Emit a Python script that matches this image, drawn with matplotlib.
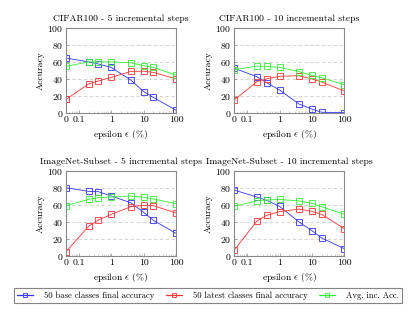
import matplotlib
matplotlib.use("Agg")
import matplotlib.pyplot as plt
import numpy as np
from matplotlib.ticker import FixedLocator, FixedFormatter, LogLocator, NullFormatter

plt.rcParams['font.family'] = ['cmr10', 'DejaVu Serif']
plt.rcParams['mathtext.fontset'] = 'cm'
plt.rcParams['axes.formatter.use_mathtext'] = True

# epsilon values (%); the "0" point is drawn at the left edge of the log axis
eps_labels = ["0", "0.2", "0.4", "1", "4", "10", "20", "100"]
eps_zero_pos = 0.04
eps = [eps_zero_pos, 0.2, 0.4, 1, 4, 10, 20, 100]

titles = ["CIFAR100 - 5 incremental steps", "CIFAR100 - 10 incremental steps",
          "ImageNet-Subset - 5 incremental steps", "ImageNet-Subset - 10 incremental steps"]

base_acc = [
    [64.5, 60, 57.5, 53.5, 38.6, 25, 18, 3],
    [52.4, 42.5, 35.4, 26.8, 10.2, 4.3, 0.5, 0],
    [80, 75.8, 75.4, 70.3, 62.5, 51.2, 41.8, 26.6],
    [77.3, 69.1, 65.2, 58.2, 39.8, 29.7, 21.1, 8.6],
]
latest_acc = [
    [15.7, 34, 37.4, 41.7, 48.8, 49, 47.6, 40],
    [15, 36.6, 40, 43, 43.7, 39.8, 36.2, 25.6],
    [5, 34.8, 42.2, 48.8, 57.8, 59.4, 59, 50.4],
    [7, 41, 47.7, 52, 55, 52.3, 48.8, 32],
]
avg_acc = [
    [54.7, 60, 60, 60, 59, 55.5, 53.5, 44.5],
    [50.8, 55, 54.7, 53.5, 48.4, 44, 41.3, 33],
    [59, 66.4, 68.4, 69.1, 70.3, 68.8, 66.8, 61.3],
    [58.2, 64.8, 65.6, 66.4, 64.5, 61.7, 57.8, 48.8],
]
series_names = ["50 base classes final accuracy", "50 latest classes final accuracy", "Avg. inc. Acc."]
colors = ["#3333ff", "#ff3333", "#33ee33"]

xtick_vals = [eps_zero_pos, 0.1, 1, 10, 100]
xtick_labels = ["0", "0.1", "1", "10", "100"]
yticks = [0, 20, 40, 60, 80, 100]

W, H = 416, 315
fig = plt.figure(figsize=(W / 100, H / 100), dpi=100)

boxes = [(66, 28, 176, 112.7), (234.3, 28, 344.3, 112.7),
         (66, 170.7, 176, 256), (234.3, 170.7, 344.3, 256)]

handles = []
for i, (l, t, r, b) in enumerate(boxes):
    ax = fig.add_axes([l / W, (H - b) / H, (r - l) / W, (b - t) / H])
    ax.set_xscale('log')
    ax.set_xlim(eps_zero_pos, 100)
    ax.set_ylim(0, 100)
    for y in [20, 40, 60, 80]:
        ax.axhline(y, color='#cccccc', lw=0.6, ls=(0, (4, 3)), zorder=0)
    hs = []
    for vals, c in zip([base_acc[i], latest_acc[i], avg_acc[i]], colors):
        h, = ax.plot(eps, vals, color=c, lw=0.6, marker='s', ms=3.8,
                     mfc='none', mec=c, mew=0.6)
        hs.append(h)
    if i == 0:
        handles = hs
    ax.xaxis.set_major_locator(FixedLocator(xtick_vals))
    ax.xaxis.set_major_formatter(FixedFormatter(xtick_labels))
    ax.xaxis.set_minor_locator(LogLocator(base=10, subs=np.arange(2, 10), numticks=20))
    ax.xaxis.set_minor_formatter(NullFormatter())
    ax.set_yticks(yticks)
    ax.tick_params(direction='in', labelsize=7, length=2.5, width=0.5, color='#888888', pad=2)
    ax.tick_params(which='minor', direction='in', length=1.5, width=0.4, color='#aaaaaa')
    for s in ax.spines.values():
        s.set_color('#888888')
        s.set_linewidth(0.8)
    ax.set_title(titles[i], fontsize=6.9, pad=5)
    ax.set_xlabel("epsilon " + r"$\epsilon$" + " (%)", fontsize=6.9, labelpad=3)
    ax.set_ylabel("Accuracy", fontsize=6.9, labelpad=2)

leg = fig.legend(handles, series_names, loc='center', ncol=3,
                 bbox_to_anchor=(208 / W, (H - 295.5) / H), fontsize=6.2,
                 frameon=True, fancybox=False, edgecolor='#666666',
                 handlelength=1.9, columnspacing=1.3, borderpad=0.35, handletextpad=1.3,
                 markerscale=0.6)
leg.get_frame().set_linewidth(0.8)
for ln in leg.get_lines():
    ln.set_linewidth(0.9)

fig.savefig("out.png", dpi=100)
